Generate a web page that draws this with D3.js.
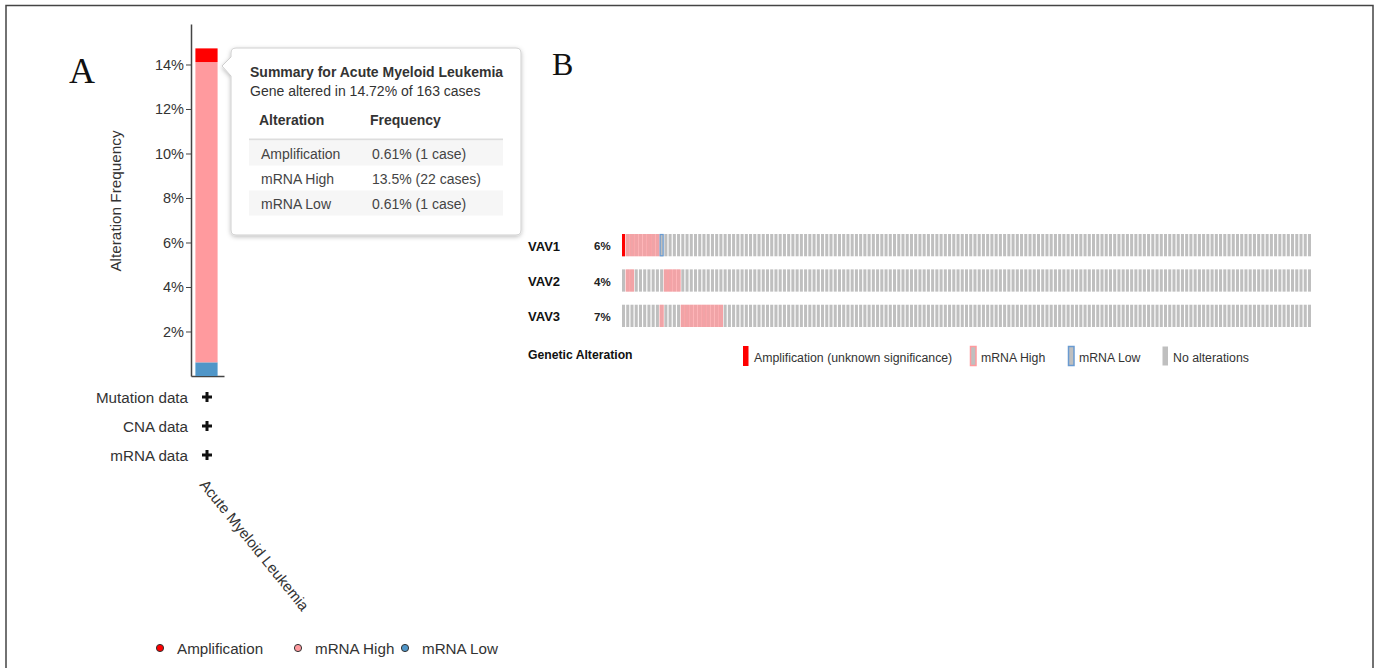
<!DOCTYPE html>
<html>
<head>
<meta charset="utf-8">
<script src="https://cdn.jsdelivr.net/npm/d3@7/dist/d3.min.js"></script>
<style>
  html, body { margin: 0; padding: 0; background: #fff; }
  svg { display: block; font-family: "Liberation Sans", Arial, sans-serif; }
</style>
</head>
<body>
<svg id="fig" width="1382" height="668"></svg>
<script>
// ---- Panel A: cancer type summary (Acute Myeloid Leukemia, 163 cases) ----
const cancerType = "Acute Myeloid Leukemia";
const totalCases = 163;
const alterationTypes = ["mRNA Low", "mRNA High", "Amplification"]; // stack order bottom -> top
const alterationCases = [1, 22, 1];
const alterationColors = ["#5096c8", "#ff9a9e", "#ff0000"];
const yTicks = [2, 4, 6, 8, 10, 12, 14];
const yMax = 15.82;
const trackLabels = ["Mutation data", "CNA data", "mRNA data"];
const summaryLegend = ["Amplification", "mRNA High", "mRNA Low"];
const summaryLegendColors = ["#ff0000", "#ff9a9e", "#5096c8"];
const tableRows = ["Amplification", "mRNA High", "mRNA Low"];
const tableCases = [1, 22, 1];

// ---- Panel B: oncoprint of VAV1/VAV2/VAV3 over 163 samples ----
const genes = ["VAV1", "VAV2", "VAV3"];
// status of the first 24 (altered) samples per gene; remaining samples unaltered
const vav1Status = ["amp","high","high","high","high","high","high","high","high","low","","","","","","","","","","","","","",""];
const vav2Status = ["","high","high","","","","","","","","high","high","high","high","","","","","","","","","",""];
const vav3Status = ["","","","","","","","","","high","","","","","high","high","high","high","high","high","high","high","high","high"];
const oncoLegend = ["Amplification (unknown significance)", "mRNA High", "mRNA Low", "No alterations"];

const svg = d3.select("#fig");

// figure frame
svg.append("path")
  .attr("d", "M6,700 V5.5 H1373 V700")
  .attr("fill", "none").attr("stroke", "#444").attr("stroke-width", 1.5);

// panel letters
svg.append("text").attr("x", 69).attr("y", 83).text("A")
  .attr("font-family", "'Liberation Serif', 'DejaVu Serif', serif").attr("font-size", 36).attr("fill", "#111");
svg.append("text").attr("x", 552).attr("y", 75).text("B")
  .attr("font-family", "'Liberation Serif', 'DejaVu Serif', serif").attr("font-size", 32).attr("fill", "#111");

// ===== Panel A =====
const y = d3.scaleLinear().domain([0, yMax]).range([376, 24]);
const x = d3.scaleBand().domain([cancerType]).range([191, 224]).paddingInner(0).paddingOuter(0.13);

const yAxis = d3.axisLeft(y).tickValues(yTicks).tickFormat(d => d + "%").tickSize(5).tickSizeOuter(0);
const gy = svg.append("g").attr("transform", "translate(191,0)").call(yAxis);
gy.select(".domain").attr("stroke", "#444").attr("stroke-width", 1.5);
gy.selectAll(".tick line").attr("stroke", "#444");
gy.selectAll(".tick text").attr("font-size", 14.5).attr("fill", "#333").attr("font-family", "'Liberation Sans', Arial, sans-serif").attr("x", -7);

const xAxis = d3.axisBottom(x).tickSize(0).tickFormat("");
const gx = svg.append("g").attr("transform", "translate(0,376)").call(xAxis);
gx.select(".domain").attr("stroke", "#444").attr("stroke-width", 1.5);

svg.append("text")
  .attr("transform", "translate(121,201) rotate(-90)")
  .attr("text-anchor", "middle").attr("font-size", 15.3).attr("fill", "#333")
  .text("Alteration Frequency");

// stacked bar
const pcts = alterationCases.map(c => c / totalCases * 100);
let cum = 0;
const stacks = pcts.map((p, i) => { const s = { y0: cum, y1: cum + p, color: alterationColors[i], type: alterationTypes[i] }; cum += p; return s; });
svg.append("g").selectAll("rect").data(stacks).join("rect")
  .attr("x", x(cancerType) + 1)
  .attr("width", x.bandwidth() - 4)
  .attr("y", d => y(d.y1))
  .attr("height", d => y(d.y0) - y(d.y1))
  .attr("fill", d => d.color);

// data track labels
trackLabels.forEach((t, i) => {
  const ty = 397 + i * 29;
  svg.append("text").attr("x", 188).attr("y", ty + 5.5).attr("text-anchor", "end")
    .attr("font-size", 15.2).attr("fill", "#333").text(t);
  svg.append("path")
    .attr("d", `M${207 - 5},${ty} H${207 + 5} M207,${ty - 5} V${ty + 5}`)
    .attr("stroke", "#111").attr("stroke-width", 3);
});

// rotated category label
svg.append("text")
  .attr("transform", "translate(199,485) rotate(51)")
  .attr("font-size", 15).attr("fill", "#333").text(cancerType);

// bottom legend
const legX = [160, 298, 405];
summaryLegend.forEach((t, i) => {
  svg.append("circle").attr("cx", legX[i]).attr("cy", 648).attr("r", 3.6)
    .attr("fill", summaryLegendColors[i]).attr("stroke", "#333").attr("stroke-width", 1);
  svg.append("text").attr("x", legX[i] + 17).attr("y", 653.5)
    .attr("font-size", 15.2).attr("fill", "#333").text(t);
});

// tooltip
const defs = svg.append("defs");
const f = defs.append("filter").attr("id", "shadow").attr("x", "-10%").attr("y", "-10%").attr("width", "130%").attr("height", "130%");
f.append("feDropShadow").attr("dx", 0).attr("dy", 1.5).attr("stdDeviation", 2).attr("flood-color", "#000").attr("flood-opacity", 0.25);

const tip = svg.append("g");
tip.append("path")
  .attr("d", "M236,48 H516 Q521,48 521,53 V230 Q521,235 516,235 H236 Q231,235 231,230 V76 L222,66 L231,57 V53 Q231,48 236,48 Z")
  .attr("fill", "#fff").attr("stroke", "#cfcfcf").attr("stroke-width", 1)
  .attr("filter", "url(#shadow)");
tip.append("text").attr("x", 250).attr("y", 77).attr("font-size", 14).attr("font-weight", "bold").attr("fill", "#333")
  .text("Summary for " + cancerType);
const totalAltered = d3.sum(alterationCases);
tip.append("text").attr("x", 250).attr("y", 96).attr("font-size", 14).attr("fill", "#333")
  .text(`Gene altered in ${(totalAltered / totalCases * 100).toFixed(2)}% of ${totalCases} cases`);
tip.append("text").attr("x", 259).attr("y", 125).attr("font-size", 14).attr("font-weight", "bold").attr("fill", "#333").text("Alteration");
tip.append("text").attr("x", 370).attr("y", 125).attr("font-size", 14).attr("font-weight", "bold").attr("fill", "#333").text("Frequency");
tip.append("line").attr("x1", 249).attr("x2", 503).attr("y1", 139.5).attr("y2", 139.5).attr("stroke", "#ddd").attr("stroke-width", 2);
const fmtPct = v => { const p = v / totalCases * 100; return (p >= 10 ? d3.format(".3~r")(p) : d3.format(".2f")(p)) + "%"; };
tableRows.forEach((r, i) => {
  const top = 140.5 + i * 25;
  if (i % 2 === 0) tip.append("rect").attr("x", 249).attr("y", top).attr("width", 254).attr("height", 25).attr("fill", "#f6f6f6");
  tip.append("text").attr("x", 261).attr("y", top + 18).attr("font-size", 14).attr("fill", "#444").text(r);
  tip.append("text").attr("x", 372).attr("y", top + 18).attr("font-size", 14).attr("fill", "#444")
    .text(`${fmtPct(tableCases[i])} (${tableCases[i]} case${tableCases[i] > 1 ? "s" : ""})`);
});

// ===== Panel B: oncoprint =====
const samples = d3.range(totalCases);
const statusByGene = { VAV1: vav1Status, VAV2: vav2Status, VAV3: vav3Status };
const xs = d3.scaleBand().domain(samples).range([622, 1311]).paddingInner(0.28).paddingOuter(0);
const yr = d3.scaleBand().domain(genes).range([234, 327]).paddingInner(0.37).paddingOuter(0);
const step = xs.step();
const gap = step - xs.bandwidth();

const onco = svg.append("g");
genes.forEach(g => {
  const st = samples.map(i => statusByGene[g][i] || "");
  const row = onco.append("g");
  const top = yr(g), h = yr.bandwidth();
  // mRNA high: pink block spanning the sample slot
  row.selectAll("rect.high").data(samples.filter(i => st[i] === "high")).join("rect")
    .attr("x", i => xs(i) - gap / 2).attr("y", top).attr("width", step).attr("height", h)
    .attr("fill", "#fc9fa3");
  // base gray cells
  row.selectAll("rect.cell").data(samples).join("rect")
    .attr("x", i => xs(i)).attr("y", top).attr("width", xs.bandwidth()).attr("height", h)
    .attr("fill", "#bfbfbf")
    .attr("opacity", i => st[i] === "high" ? 0.18 : 1);
  // amplification
  row.selectAll("rect.amp").data(samples.filter(i => st[i] === "amp")).join("rect")
    .attr("x", i => xs(i)).attr("y", top).attr("width", xs.bandwidth()).attr("height", h)
    .attr("fill", "#ff0000");
  // mRNA low: blue outline
  row.selectAll("rect.low").data(samples.filter(i => st[i] === "low")).join("rect")
    .attr("x", i => xs(i)).attr("y", top + 0.5).attr("width", xs.bandwidth()).attr("height", h - 1)
    .attr("fill", "#bfbfbf").attr("stroke", "#6a9bd1").attr("stroke-width", 1.2);
  // labels
  const nAlt = st.filter(s => s !== "").length;
  onco.append("text").attr("x", 528).attr("y", top + h / 2 + 5.5).attr("font-size", 13).attr("font-weight", "bold").attr("fill", "#111").text(g);
  onco.append("text").attr("x", 594).attr("y", top + h / 2 + 5).attr("font-size", 11.5).attr("font-weight", "bold").attr("fill", "#222")
    .text(Math.round(nAlt / totalCases * 100) + "%");
});

// oncoprint legend
svg.append("text").attr("x", 528).attr("y", 358.5).attr("font-size", 12.2).attr("font-weight", "bold").attr("fill", "#111").text("Genetic Alteration");
const olX = [743, 970, 1068, 1162];
oncoLegend.forEach((t, i) => {
  const lx = olX[i];
  if (i === 0) {
    svg.append("rect").attr("x", lx).attr("y", 346).attr("width", 5.5).attr("height", 20).attr("fill", "#ff0000");
  } else {
    const stroke = i === 1 ? "#ff9a9e" : i === 2 ? "#6a9bd1" : null;
    svg.append("rect").attr("x", lx + 0.5).attr("y", 346.5).attr("width", 5.5).attr("height", 19).attr("fill", "#bfbfbf")
      .attr("stroke", stroke || "none").attr("stroke-width", 1.5);
  }
  svg.append("text").attr("x", lx + 11).attr("y", 361.5).attr("font-size", 12.3).attr("fill", "#333").text(t);
});
</script>
</body>
</html>
